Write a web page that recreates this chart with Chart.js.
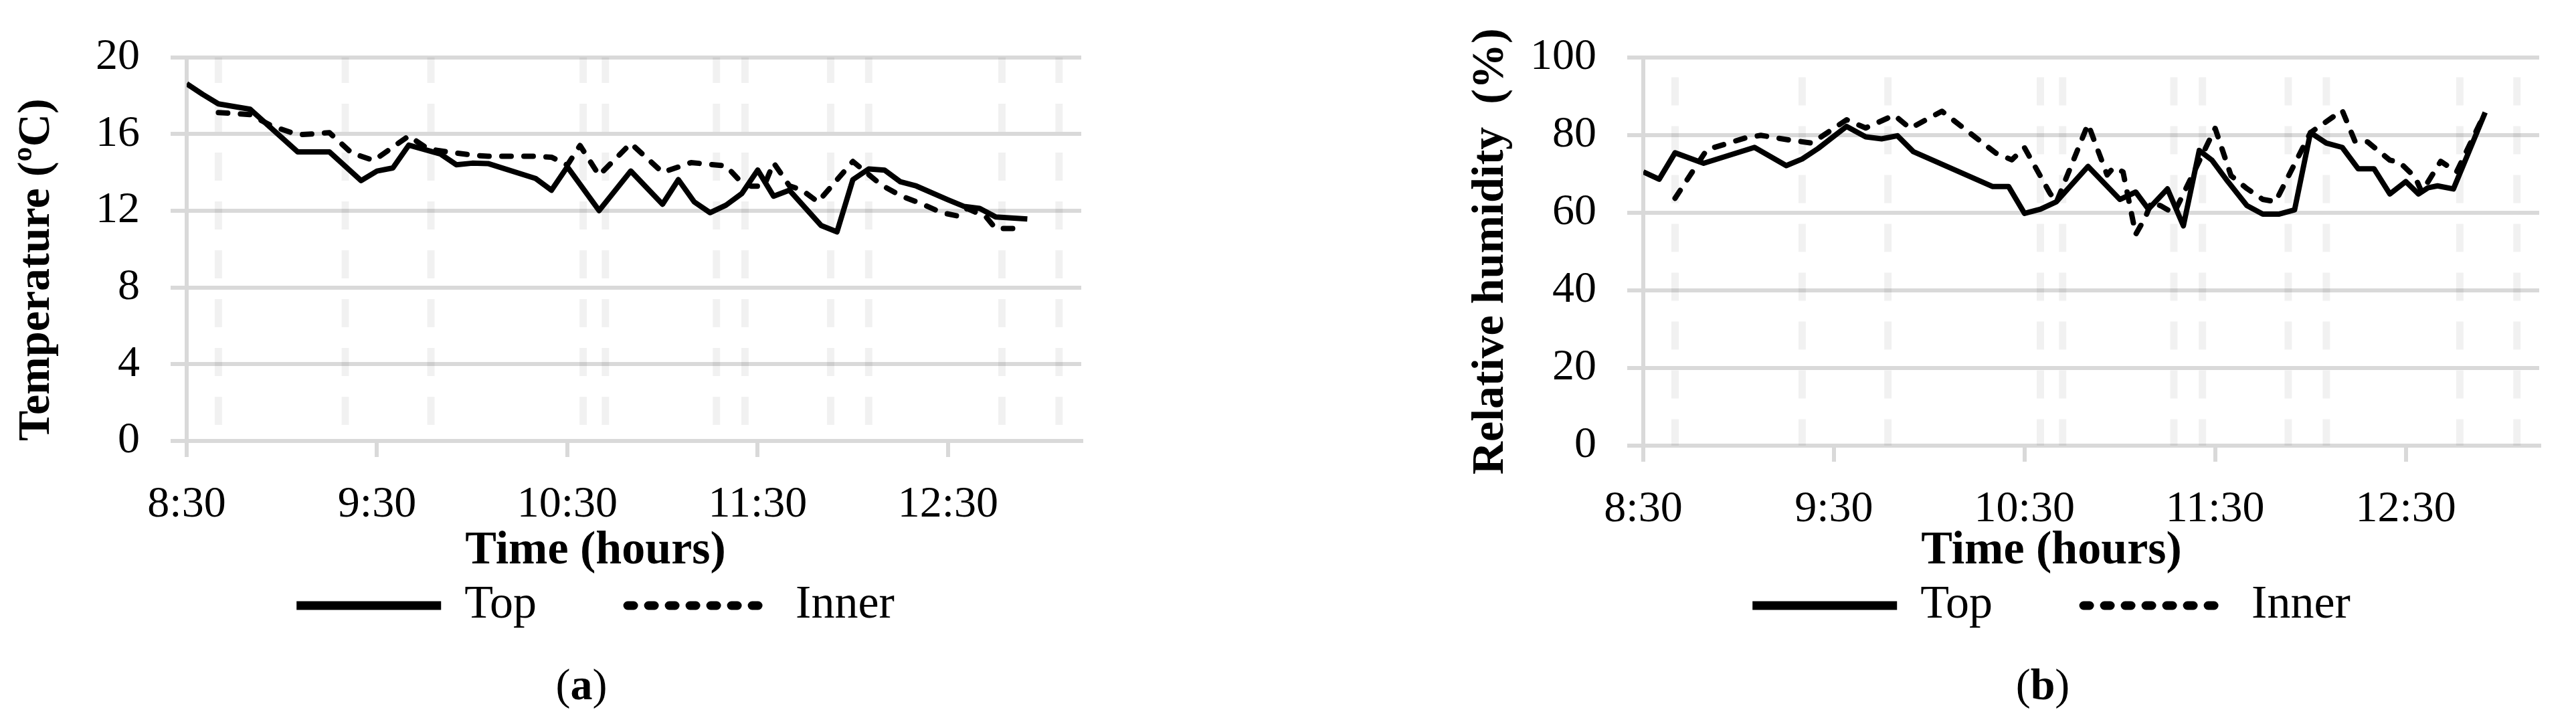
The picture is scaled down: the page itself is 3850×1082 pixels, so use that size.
<!DOCTYPE html>
<html>
<head>
<meta charset="utf-8">
<title>Top and inner temperature / relative humidity</title>
<script src="https://cdn.jsdelivr.net/npm/chart.js@4.4.1/dist/chart.umd.min.js"></script>
<style>
  html, body { margin: 0; padding: 0; background: #fff; }
  body { position: relative; width: 3850px; height: 1082px; overflow: hidden; }
  canvas { position: absolute; top: 0; }
  #chartA { left: 0; }
  #chartB { left: 2176px; }
  .caption { position: absolute; top: 990px; width: 200px; text-align: center; font: 66px/66px "Liberation Serif", serif; color: #000; }
</style>
</head>
<body>
<canvas id="chartA" width="1780" height="960"></canvas>
<canvas id="chartB" width="1780" height="960"></canvas>
<div class="caption" style="left: 769px">(<b>a</b>)</div>
<div class="caption" style="left: 2953px">(<b>b</b>)</div>
<script>
const FONT = "'Liberation Serif', serif";

// x axis labels, one per hour
const hourLabels = ["8:30", "9:30", "10:30", "11:30", "12:30"];

// light dashed vertical markers (same times in both panels)
const markTimes = ["8:40", "9:20", "9:47", "10:35", "10:42", "11:17", "11:26", "11:53", "12:05", "12:47", "13:05"];

// (a) temperature, ºC
const topTimesA = ["8:30", "8:35", "8:40", "8:50", "9:05", "9:15", "9:25", "9:30", "9:35", "9:40", "9:50", "9:55",
  "10:00", "10:05", "10:20", "10:25", "10:30", "10:40", "10:50", "11:00", "11:05", "11:10", "11:15", "11:20",
  "11:25", "11:30", "11:35", "11:40", "11:50", "11:55", "12:00", "12:05", "12:10", "12:15", "12:20", "12:30",
  "12:35", "12:40", "12:45", "12:55"];
const topTemp = [18.62, 18.07, 17.57, 17.29, 15.07, 15.07, 13.57, 14.07, 14.23, 15.42, 14.96, 14.40,
  14.48, 14.46, 13.68, 13.07, 14.29, 12.01, 14.07, 12.34, 13.62, 12.46, 11.90, 12.29,
  12.90, 14.12, 12.76, 13.07, 11.23, 10.90, 13.62, 14.18, 14.12, 13.51, 13.29, 12.57,
  12.23, 12.12, 11.68, 11.57];
const innerTimesA = ["8:40", "8:50", "8:57", "9:05", "9:10", "9:15", "9:22", "9:29", "9:40", "9:46", "9:52",
  "10:00", "10:05", "10:20", "10:25", "10:28", "10:30", "10:34", "10:40", "10:50", "11:00", "11:09", "11:20",
  "11:25", "11:28", "11:32", "11:35", "11:40", "11:44", "11:49", "12:00", "12:09", "12:15", "12:22", "12:28",
  "12:33", "12:36", "12:42", "12:45", "12:53"];
const innerTemp = [17.12, 17.01, 16.41, 15.96, 16.01, 16.07, 15.01, 14.62, 15.90, 15.23, 15.07,
  14.90, 14.84, 14.84, 14.79, 14.55, 14.38, 15.40, 13.85, 15.51, 14.00, 14.51, 14.34,
  13.46, 13.28, 13.28, 14.50, 13.30, 13.07, 12.46, 14.57, 13.34, 12.79, 12.34, 11.90,
  11.73, 12.12, 11.68, 11.07, 11.07];

// (b) relative humidity, %
const topTimesB = ["8:30", "8:35", "8:40", "8:49", "9:05", "9:15", "9:20", "9:25", "9:34", "9:40", "9:45", "9:50",
  "9:55", "10:20", "10:25", "10:30", "10:35", "10:40", "10:50", "11:00", "11:05", "11:09", "11:15", "11:20",
  "11:25", "11:29", "11:34", "11:40", "11:45", "11:50", "11:55", "12:00", "12:05", "12:10", "12:15", "12:20",
  "12:25", "12:30", "12:34", "12:37", "12:40", "12:45", "12:55"];
const topRh = [70.5, 68.6, 75.4, 72.7, 76.8, 72.1, 73.8, 76.5, 82.2, 79.5, 79.0, 79.8,
  75.7, 66.7, 66.7, 59.8, 60.9, 62.8, 71.9, 63.4, 65.3, 60.9, 66.1, 56.6,
  76.0, 73.5, 68.0, 61.8, 59.6, 59.6, 60.7, 80.6, 77.9, 76.8, 71.3, 71.3,
  64.8, 68.0, 64.8, 66.4, 66.9, 66.1, 85.8];
const innerTimesB = ["8:40", "8:50", "9:02", "9:07", "9:16", "9:23", "9:34", "9:40", "9:49", "9:54", "10:04",
  "10:21", "10:26", "10:30", "10:38", "10:40", "10:50", "10:56", "10:58", "11:01", "11:05", "11:08", "11:10",
  "11:13", "11:17", "11:30", "11:35", "11:40", "11:45", "11:49", "12:00", "12:10", "12:14", "12:18", "12:25",
  "12:28", "12:33", "12:35", "12:41", "12:46", "12:55"];
const innerRh = [63.7, 76.2, 79.2, 79.9, 78.7, 77.9, 83.9, 81.8, 85.1, 81.7, 86.1,
  75.3, 73.6, 76.7, 65.0, 62.6, 82.8, 69.7, 71.6, 70.5, 54.4, 58.7, 62.8,
  61.7, 59.8, 81.7, 69.5, 66.2, 63.4, 62.8, 80.6, 86.3, 78.4, 78.2, 73.5,
  73.0, 69.1, 65.3, 73.2, 70.5, 85.8];

// minutes since 8:30
const toMin = (t) => {
  const [h, m] = t.split(":").map(Number);
  return h * 60 + m - 510;
};
const points = (times, vals) => times.map((t, i) => ({ x: toMin(t), y: vals[i] }));

Chart.defaults.color = "#000";
Chart.defaults.font.family = FONT;

function markLines(times, dashOffset) {
  return {
    id: "markLines",
    beforeDatasetsDraw(chart) {
      const { ctx, chartArea, scales } = chart;
      ctx.save();
      ctx.beginPath();
      ctx.rect(chartArea.left, chartArea.top, chartArea.width, chartArea.height);
      ctx.clip();
      ctx.strokeStyle = "rgba(0, 0, 0, 0.055)";
      ctx.lineWidth = 11;
      ctx.setLineDash([42, 31]);
      ctx.lineDashOffset = dashOffset;
      times.forEach((t) => {
        const px = scales.x.getPixelForValue(toMin(t));
        ctx.beginPath();
        ctx.moveTo(px, chartArea.top);
        ctx.lineTo(px, chartArea.bottom);
        ctx.stroke();
      });
      ctx.restore();
    },
  };
}

// the x scale box is kept short so title/legend sit where they do in the figure;
// let its tick labels draw below that box instead of being clipped
const labelRoom = {
  id: "labelRoom",
  afterLayout(chart) {
    chart.scales.x.bottom = chart.height;
  },
};

function makeChart(id, cfg) {
  const line = {
    borderColor: "#000",
    backgroundColor: "#000",
    borderWidth: 8,
    pointRadius: 0,
    pointHoverRadius: 0,
    pointStyle: "line",
    borderJoinStyle: "round",
    tension: 0,
  };
  const g = cfg.geom;

  return new Chart(document.getElementById(id), {
    type: "line",
    data: {
      datasets: [
        { ...line, label: "Top", data: cfg.top, borderCapStyle: "butt" },
        { ...line, label: "Inner", data: cfg.inner, borderDash: [14, 19], borderCapStyle: "round" },
      ],
    },
    options: {
      responsive: false,
      animation: false,
      events: [],
      layout: { padding: { top: g.top, bottom: 10, left: 0, right: 0 } },
      scales: {
        x: {
          type: "linear",
          min: 0,
          max: 282,
          afterFit: (s) => { s.height = g.xAxisHeight; },
          ticks: {
            stepSize: 60,
            includeBounds: false,
            autoSkip: false,
            maxRotation: 0,
            padding: 32,
            font: { size: 66 },
            callback: (v) => hourLabels[v / 60],
          },
          grid: { drawOnChartArea: false, tickLength: 24, color: "#d9d9d9", lineWidth: 6 },
          border: { color: "#d9d9d9", width: 6 },
        },
        y: {
          min: 0,
          max: cfg.yMax,
          afterFit: (s) => { s.width = g.yAxisWidth; },
          ticks: { stepSize: cfg.yStep, padding: 46, font: { size: 66 } },
          grid: { tickLength: 24, color: "#d9d9d9", lineWidth: 6 },
          border: { color: "#d9d9d9", width: 6 },
          title: {
            display: true,
            text: cfg.yTitle,
            align: g.yTitleAlign,
            font: { size: 68, weight: "bold" },
            padding: { top: g.yTitlePad, bottom: 0 },
          },
        },
        // empty spacer on the right so the legend sits centred under the panel
        spacer: {
          type: "linear",
          position: "right",
          afterFit: (s) => { s.width = g.rightGap; },
          grid: { display: false },
          border: { display: false },
          ticks: { display: false },
        },
      },
      plugins: {
        tooltip: { enabled: false },
        // zero-height box: text is pushed down by its top padding
        title: {
          display: true,
          position: "bottom",
          weight: 500,
          text: "Time (hours)",
          font: { size: 70, weight: "bold" },
          padding: { top: 48, bottom: -132 },
        },
        legend: {
          position: "bottom",
          labels: {
            usePointStyle: true,
            pointStyleWidth: 216,
            padding: 136,
            font: { size: 70 },
            generateLabels(chart) {
              const items = Chart.defaults.plugins.legend.labels.generateLabels(chart);
              items.forEach((it) => {
                const dashed = !!chart.data.datasets[it.datasetIndex].borderDash;
                it.lineWidth = 13;
                it.strokeStyle = "#000";
                it.lineDash = dashed ? [9, 22] : [];
                it.lineCap = dashed ? "round" : "butt";
              });
              return items;
            },
          },
        },
      },
    },
    plugins: [markLines(markTimes, g.markOffset), labelRoom],
  });
}

makeChart("chartA", {
  top: points(topTimesA, topTemp),
  inner: points(innerTimesA, innerTemp),
  yMax: 20,
  yStep: 4,
  yTitle: "Temperature (ºC)",
  geom: { top: 61, xAxisHeight: 75, yAxisWidth: 279, rightGap: 164, yTitlePad: 15, yTitleAlign: "start", markOffset: 3.5 },
});

makeChart("chartB", {
  top: points(topTimesB, topRh),
  inner: points(innerTimesB, innerRh),
  yMax: 100,
  yStep: 20,
  yTitle: "Relative humidity  (%)",
  geom: { top: 58.5, xAxisHeight: 68, yAxisWidth: 280, rightGap: 161, yTitlePad: 12, yTitleAlign: "center", markOffset: 43 },
});
</script>
</body>
</html>
